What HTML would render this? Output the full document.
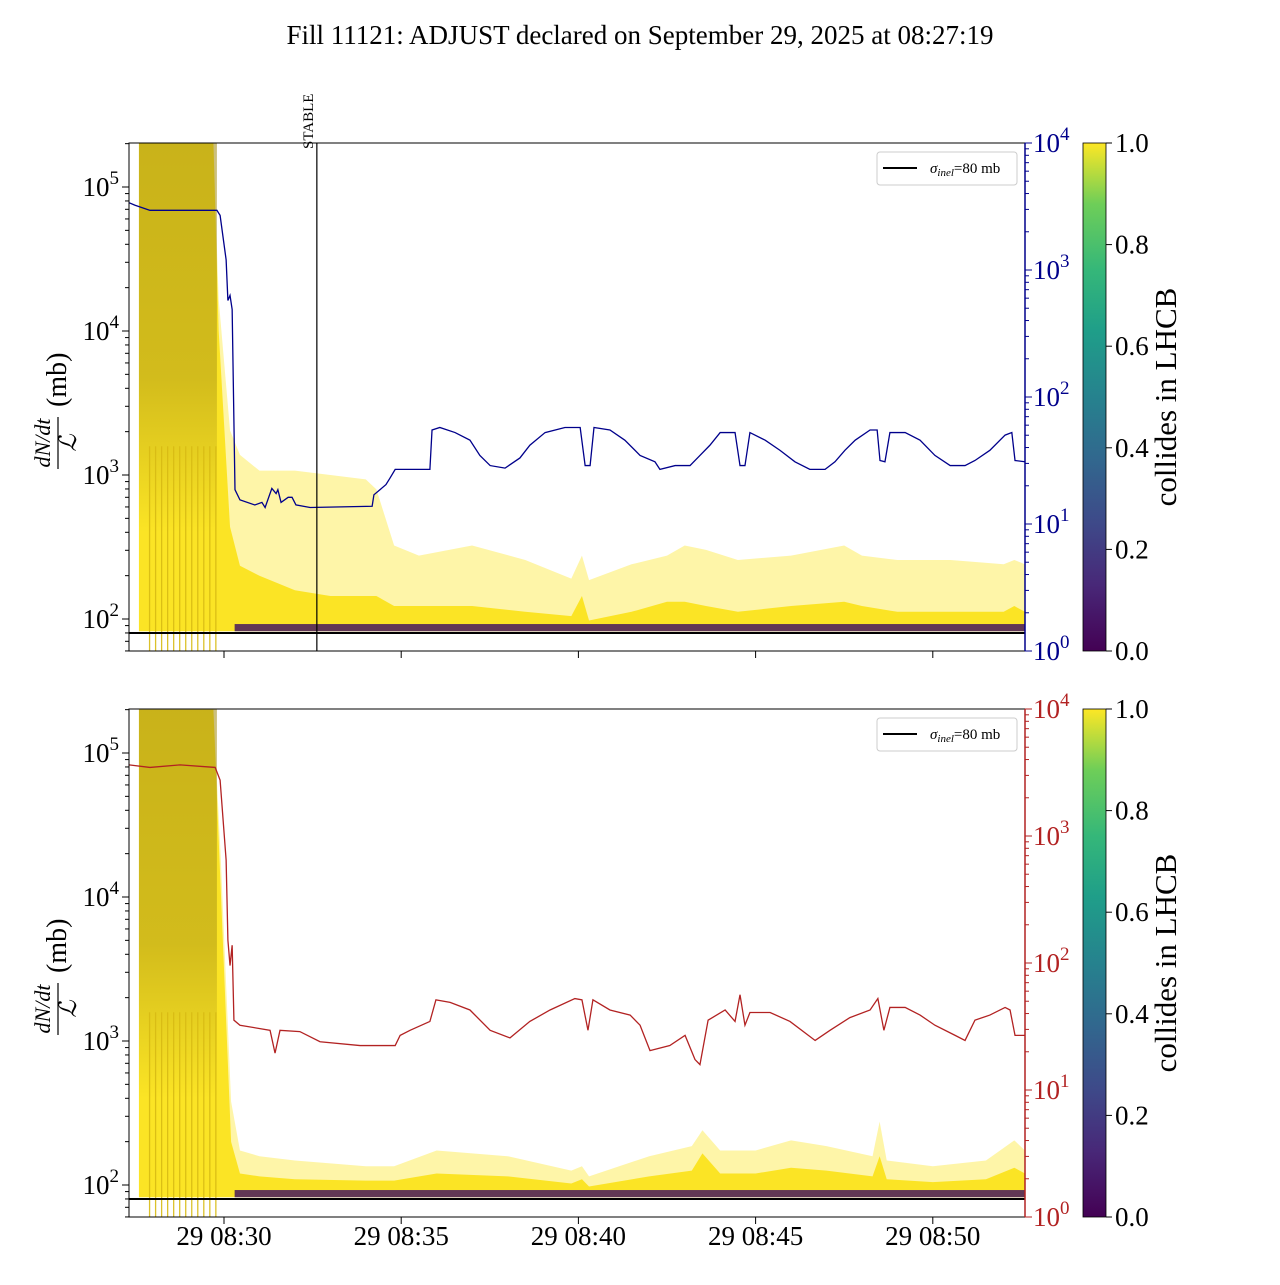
<!DOCTYPE html>
<html><head><meta charset="utf-8"><style>
body{margin:0;background:#fff}
svg text{font-family:"Liberation Serif","DejaVu Serif",serif}
</style></head><body>
<svg id="chart" width="1280" height="1280" viewBox="0 0 1280 1280" xmlns="http://www.w3.org/2000/svg">
<defs>
<linearGradient id="vir" x1="0" y1="1" x2="0" y2="0">
<stop offset="0" stop-color="#440154"/><stop offset="0.13" stop-color="#482878"/><stop offset="0.25" stop-color="#3e4989"/><stop offset="0.38" stop-color="#31688e"/><stop offset="0.5" stop-color="#26828e"/><stop offset="0.63" stop-color="#1f9e89"/><stop offset="0.75" stop-color="#35b779"/><stop offset="0.88" stop-color="#6ece58"/><stop offset="1" stop-color="#fde725"/>
</linearGradient>
<linearGradient id="blk" x1="0" y1="0" x2="0" y2="1">
<stop offset="0" stop-color="#a08a10" stop-opacity="0.55"/><stop offset="0.6" stop-color="#a08a10" stop-opacity="0.45"/><stop offset="1" stop-color="#a08a10" stop-opacity="0"/>
</linearGradient>
<clipPath id="clipT"><rect x="129" y="143" width="896" height="508"/></clipPath>
<clipPath id="clipB"><rect x="129" y="709" width="896" height="508"/></clipPath>
</defs>
<text x="640" y="44" font-size="27" text-anchor="middle">Fill 11121: ADJUST declared on September 29, 2025 at 08:27:19</text>
<g id="root"></g>
</svg>
<script>
// ---- data (minutes relative to 08:30, log10 values) ----
const blueT=[-2.68,-2.51,-2.09,-0.20,-0.11,0.06,0.11,0.17,0.23,0.31,0.45,0.87,1.07,1.16,1.35,1.47,1.52,1.61,1.81,1.92,2.03,2.43,4.18,4.23,4.40,4.57,4.68,4.83,5.81,5.87,6.09,6.52,6.94,7.22,7.51,7.93,8.35,8.63,9.06,9.62,10.05,10.19,10.33,10.44,10.89,11.31,11.74,12.16,12.30,12.73,13.15,13.43,13.71,14.00,14.42,14.56,14.70,14.84,15.27,15.69,16.11,16.53,16.96,17.24,17.52,17.81,18.23,18.43,18.51,18.65,18.79,19.22,19.64,20.06,20.49,20.91,21.19,21.61,22.04,22.23,22.32,22.60];
const blueV=[3.53,3.51,3.47,3.47,3.43,3.08,2.76,2.80,2.69,1.27,1.19,1.15,1.17,1.13,1.28,1.24,1.27,1.17,1.21,1.21,1.15,1.13,1.14,1.23,1.27,1.31,1.36,1.43,1.43,1.74,1.76,1.72,1.66,1.54,1.46,1.44,1.52,1.62,1.72,1.76,1.76,1.46,1.46,1.76,1.74,1.66,1.54,1.49,1.43,1.46,1.46,1.54,1.62,1.72,1.72,1.46,1.46,1.72,1.66,1.58,1.49,1.43,1.43,1.49,1.58,1.66,1.74,1.74,1.50,1.49,1.72,1.72,1.66,1.54,1.46,1.46,1.50,1.58,1.70,1.72,1.50,1.49];
const redT=[-2.68,-2.09,-1.24,-0.25,-0.11,0.06,0.11,0.17,0.23,0.28,0.45,1.30,1.44,1.58,2.14,2.71,3.84,4.83,4.97,5.25,5.81,5.98,6.38,6.94,7.51,8.07,8.63,9.20,9.90,10.10,10.27,10.41,10.89,11.46,11.74,12.02,12.58,13.01,13.29,13.43,13.66,14.14,14.42,14.56,14.70,14.84,15.41,15.97,16.68,17.10,17.66,18.23,18.45,18.62,18.79,19.22,19.64,20.06,20.63,20.91,21.19,21.61,22.04,22.18,22.32,22.60];
const redV=[3.56,3.54,3.56,3.54,3.44,2.81,2.18,1.98,2.14,1.55,1.51,1.47,1.29,1.47,1.46,1.38,1.35,1.35,1.43,1.47,1.54,1.71,1.69,1.63,1.47,1.41,1.54,1.63,1.72,1.71,1.47,1.71,1.63,1.59,1.51,1.31,1.35,1.43,1.24,1.20,1.55,1.63,1.54,1.75,1.51,1.61,1.61,1.54,1.39,1.47,1.57,1.63,1.72,1.47,1.65,1.65,1.59,1.51,1.43,1.39,1.55,1.59,1.65,1.63,1.43,1.43];
const topEnvT=[-2.4,-0.3,-0.15,0.17,0.45,1.0,2.0,3.0,4.0,4.3,4.8,5.5,7.0,8.5,9.8,10.1,10.3,11.5,12.5,13.0,13.6,14.5,16.0,17.5,18.0,19.0,20.5,22.0,22.3,22.6];
const topEnvV=[5.31,5.31,4.22,3.31,3.14,3.03,3.03,3.00,2.97,2.90,2.51,2.44,2.51,2.41,2.28,2.44,2.27,2.38,2.44,2.51,2.48,2.41,2.44,2.51,2.44,2.41,2.41,2.38,2.41,2.38];
const topCoreV=[5.31,5.31,4.00,2.64,2.37,2.30,2.20,2.16,2.16,2.16,2.09,2.09,2.09,2.05,2.02,2.16,1.99,2.05,2.12,2.12,2.09,2.05,2.09,2.12,2.09,2.05,2.05,2.05,2.09,2.05];
const botEnvT=[-2.4,-0.3,-0.1,0.2,0.45,1.0,2.0,4.0,4.8,6.0,8.0,9.8,10.1,10.3,12.0,13.2,13.5,14.0,15.0,16.0,17.0,18.3,18.5,18.7,20.0,21.5,22.3,22.6];
const botEnvV=[5.30,5.30,4.32,2.58,2.24,2.20,2.17,2.13,2.13,2.24,2.20,2.10,2.13,2.06,2.20,2.27,2.38,2.24,2.24,2.31,2.27,2.20,2.44,2.17,2.13,2.17,2.31,2.24];
const botCoreV=[5.30,5.30,4.10,2.30,2.08,2.06,2.04,2.03,2.03,2.08,2.06,2.01,2.04,1.99,2.06,2.10,2.22,2.08,2.08,2.12,2.10,2.06,2.20,2.04,2.02,2.04,2.12,2.08];
const nanLinesT=[-2.1,-1.93,-1.76,-1.59,-1.42,-1.25,-1.08,-0.91,-0.74,-0.57,-0.40,-0.23];
const xTickLabels=["29 08:30","29 08:35","29 08:40","29 08:45","29 08:50"];
const xTickMin=[0,5,10,15,20];
const leftDecades=[2,3,4,5];
const rightDecades=[0,1,2,3,4];
const cbarTicks=[0,0.2,0.4,0.6,0.8,1.0];
const sigmaLog=Math.log10(80);
const stableMin=2.62;

const NS="http://www.w3.org/2000/svg";
const root=document.getElementById('root');
function mk(tag,attrs,parent,txt){const e=document.createElementNS(NS,tag);for(const k in attrs)e.setAttribute(k,attrs[k]);if(txt!==undefined)e.textContent=txt;(parent||root).appendChild(e);return e;}
const X0=224, PXM=35.44;
function xs(m){return X0+m*PXM;}

function panel(top,name,rT,rV,rColor,envT,envV,coreV,stable){
  const L=129,R=1025,B=top+508;
  const ly=v=>top+44+(5-v)*144;
  const ry=v=>top+(4-v)*127;
  const g=mk('g',{'clip-path':'url(#clip'+(top<400?'T':'B')+')'});
  
  
  const base=1.915;
  function band(vals,fill,op,nm){
    let d='M'+xs(envT[0])+','+ly(base);
    envT.forEach((t,i)=>{d+=' L'+xs(t)+','+ly(vals[i]);});
    d+=' L'+xs(envT[envT.length-1])+','+ly(base)+' Z';
    const p=mk('path',{d:d,fill:fill,opacity:op},g);
    
  }
  band(envV,'#fde725',0.4,'bunch-envelope');
  band(coreV,'#fbe31e',0.95,'bunch-core');
  // dark block at start
  const blk=mk('rect',{x:xs(envT[0]),y:top,width:xs(-0.2)-xs(envT[0]),height:ly(2.6)-top,fill:'url(#blk)'},g);
  
  // nan vertical lines
  nanLinesT.forEach(t=>{const l=mk('line',{x1:xs(t),x2:xs(t),y1:ly(3.2),y2:B,stroke:'#d8bb14','stroke-width':1.3,opacity:0.9},g);
    });
  // purple bottom band
  const pb=mk('rect',{x:xs(0.3),y:ly(1.965),width:R-xs(0.3),height:ly(base)-ly(1.965),fill:'#45195e',opacity:0.85},g);
  
  // sigma line
  const sl=mk('line',{x1:L,x2:R,y1:ly(sigmaLog),y2:ly(sigmaLog),stroke:'#000','stroke-width':2},g);
  
  // right series
  let d='';rT.forEach((t,i)=>{d+=(i?' L':'M')+xs(t)+','+ry(rV[i]);});
  const rl=mk('path',{d:d,fill:'none',stroke:rColor,'stroke-width':1.3},g);
  
  if(stable){const s=mk('line',{x1:xs(stableMin),x2:xs(stableMin),y1:top,y2:B,stroke:'#000','stroke-width':1.2});
    
    const st=mk('text',{x:0,y:0,'font-size':15,transform:'translate('+(xs(stableMin)-4)+','+(top+6)+') rotate(-90)'},root,'STABLE');
    }
  // frame
  const fr=mk('rect',{x:L,y:top,width:R-L,height:508,fill:'none',stroke:'#000','stroke-width':1});
  
  mk('line',{x1:R,x2:R,y1:top,y2:B,stroke:rColor,'stroke-width':1.5});
  // left ticks
  leftDecades.forEach(k=>{
    for(let j=1;j<10;j++){const v=k+Math.log10(j);const y=ly(v);if(y<top||y>B)continue;
      mk('line',{x1:L,x2:L-(j==1?7:4),y1:y,y2:y,stroke:'#000'});}
    const t=mk('text',{x:L-10,y:ly(k)+9,'font-size':27,'text-anchor':'end'});
    
    mk('tspan',{},t,'10');mk('tspan',{dy:-12,'font-size':19},t,String(k));
  });
  for(let j=6;j<10;j++){const y=ly(1+Math.log10(j));if(y<=B)mk('line',{x1:L,x2:L-4,y1:y,y2:y,stroke:'#000'});}
  // right ticks
  rightDecades.forEach(k=>{
    if(k<4)for(let j=2;j<10;j++){const y=ry(k+Math.log10(j));mk('line',{x1:R,x2:R+4,y1:y,y2:y,stroke:rColor});}
    const y=ry(k);mk('line',{x1:R,x2:R+7,y1:y,y2:y,stroke:rColor});
    const t=mk('text',{x:R+8,y:y+9,'font-size':27,fill:rColor});
    
    mk('tspan',{},t,'10');mk('tspan',{dy:-12,'font-size':19},t,String(k));
  });
  // x ticks
  xTickMin.forEach((m,i)=>{mk('line',{x1:xs(m),x2:xs(m),y1:B,y2:B+7,stroke:'#000'});
    if(top>400){const t=mk('text',{x:xs(m),y:B+28,'font-size':27,'text-anchor':'middle'},root,xTickLabels[i]);
      }});
  // y label
  const yl=mk('g',{transform:'translate(58,'+(top+254)+') rotate(-90)'});
  
  mk('text',{x:-46,y:-8,'font-size':22,'font-style':'italic','text-anchor':'middle'},yl,'dN/dt');
  mk('line',{x1:-72,x2:-20,y1:0,y2:0,stroke:'#000','stroke-width':1.2},yl);
  mk('text',{x:-46,y:18,'font-size':24,'font-style':'italic','text-anchor':'middle','font-family':'DejaVu Serif'},yl,'ℒ');
  mk('text',{x:-10,y:8,'font-size':28},yl,'(mb)');
  // legend
  const lg=mk('g',{});
  
  mk('rect',{x:877,y:top+9,width:140,height:33,rx:3,fill:'#fff',stroke:'#ccc'},lg);
  mk('line',{x1:883,x2:917,y1:top+25,y2:top+25,stroke:'#000','stroke-width':2},lg);
  const lt=mk('text',{x:930,y:top+30,'font-size':15},lg);
  mk('tspan',{'font-style':'italic'},lt,'σ');mk('tspan',{'font-style':'italic','font-size':11,dy:3},lt,'inel');mk('tspan',{dy:-3},lt,'=80 mb');
  // colorbar
  const cb=mk('rect',{x:1083,y:top,width:23,height:508,fill:'url(#vir)',stroke:'#000','stroke-width':0.8});
  
  cbarTicks.forEach(v=>{const y=B-v*508;mk('line',{x1:1106,x2:1112,y1:y,y2:y,stroke:'#000'});
    const t=mk('text',{x:1115,y:y+9,'font-size':27},root,v.toFixed(1));});
  const ct=mk('text',{x:0,y:0,'font-size':31,'text-anchor':'middle',transform:'translate(1176,'+(top+254)+') rotate(-90)'},root,'collides in LHCB');
  
}
panel(143,'top-panel',blueT,blueV,'#00008b',topEnvT,topEnvV,topCoreV,true);
panel(709,'bottom-panel',redT,redV,'#b22222',botEnvT,botEnvV,botCoreV,false);
</script>
</body></html>
